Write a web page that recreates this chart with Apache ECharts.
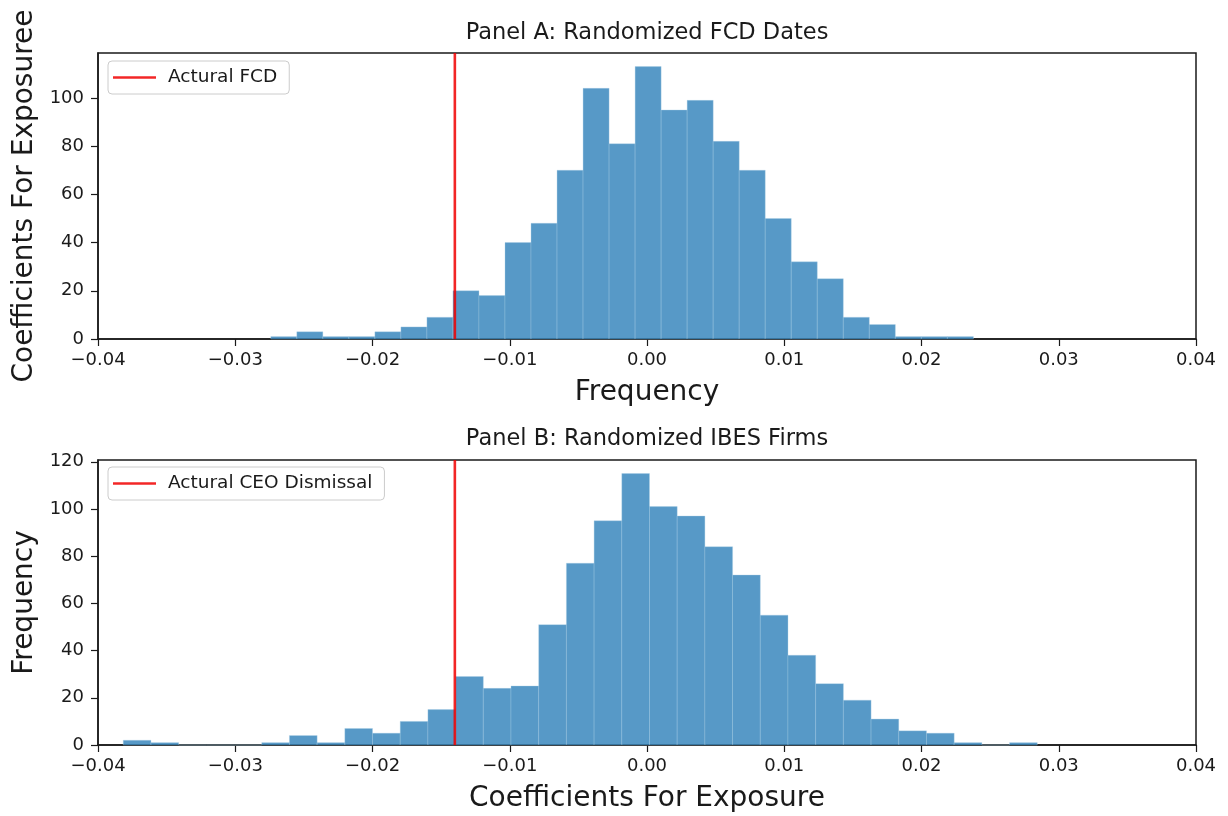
<!DOCTYPE html>
<html>
<head>
<meta charset="utf-8">
<script src="https://cdn.jsdelivr.net/npm/echarts@6/dist/echarts.min.js"></script>
<style>
  html, body { margin: 0; padding: 0; background: #fff; }
  #chart { width: 1228px; height: 816px; }
</style>
</head>
<body>
<div id="chart"></div>
<script>
// Panel A: randomized FCD dates (27 bins)
const countsA = [1, 3, 1, 1, 3, 5, 9, 20, 18, 40, 48, 70, 104, 81, 113, 95, 99, 82, 70, 50, 32, 25, 9, 6, 1, 1, 1]
const binStartA = -0.02741
const binWidthA = 0.001896
// Panel B: randomized IBES firms (33 bins)
const countsB = [2, 1, 0, 0, 0, 1, 4, 1, 7, 5, 10, 15, 29, 24, 25, 51, 77, 95, 115, 101, 97, 84, 72, 55, 38, 26, 19, 11, 6, 5, 1, 0, 1]
const binStartB = -0.03816
const binWidthB = 0.002018

const actualCoef = -0.014
const xTicks = [-0.04, -0.03, -0.02, -0.01, 0, 0.01, 0.02, 0.03, 0.04]
const yTicksA = [0, 20, 40, 60, 80, 100]
const yTicksB = [0, 20, 40, 60, 80, 100, 120]
const yMaxA = 118.65
const yMaxB = 120.75

const FONT = 'DejaVu Sans'
const ink = '#1a1a1a'
const barFill = 'rgba(31,119,180,0.75)'
const red = 'rgba(240,0,0,0.85)'

const toBins = (start, w, counts) => counts.map((n, i) => [start + i * w, start + (i + 1) * w, n])

function histItem(params, api) {
  const top = api.coord([api.value(0), api.value(2)])
  const bot = api.coord([api.value(1), 0])
  return {
    type: 'rect',
    shape: { x: top[0], y: top[1], width: bot[0] - top[0], height: bot[1] - top[1] },
    style: { fill: barFill, stroke: 'rgba(170,205,230,0.5)', lineWidth: 0.7 }
  }
}

const fmtX = v => {
  const r = Math.round(v * 100)
  return (r < 0 ? '\u2212' : '') + (Math.abs(r) / 100).toFixed(2)
}

const tick = { show: true, length: 7, inside: false, lineStyle: { color: ink, width: 1.2 } }
const lbl = { color: ink, fontFamily: FONT, fontSize: 18 }
const nameStyle = { color: ink, fontFamily: FONT, fontSize: 28 }

function xAxisFor(gi, name) {
  return {
    type: 'value', gridIndex: gi, min: -0.04, max: 0.04,
    name, nameLocation: 'middle', nameGap: 40, nameTextStyle: nameStyle,
    axisLine: { show: true, onZero: false, lineStyle: { color: ink, width: 1.5 } },
    axisTick: { ...tick, customValues: xTicks },
    axisLabel: { ...lbl, margin: 12, customValues: xTicks, formatter: fmtX },
    splitLine: { show: false }
  }
}
function yAxisFor(gi, name, ymax, ticks) {
  return {
    type: 'value', gridIndex: gi, min: 0, max: ymax,
    name, nameLocation: 'middle', nameGap: 56, nameTextStyle: nameStyle,
    axisLine: { show: true, onZero: false, lineStyle: { color: ink, width: 1.5 } },
    axisTick: { ...tick, customValues: ticks },
    axisLabel: { ...lbl, margin: 14, customValues: ticks },
    splitLine: { show: false }
  }
}

const legendBox = {
  orient: 'vertical', left: 108, icon: 'rect', itemWidth: 43, itemHeight: 2.5,
  padding: [7, 12, 7, 5], backgroundColor: 'rgba(255,255,255,0.8)',
  borderColor: '#cccccc', borderWidth: 1, borderRadius: 4,
  textStyle: { color: ink, fontFamily: FONT, fontSize: 18.5, padding: [0, 0, 0, 7] }
}

// vertical marker: the actual coefficient, from the bottom to the top of the y range
const redLine = (name, xi, yi, ymax) => ({
  name, type: 'line', xAxisIndex: xi, yAxisIndex: yi, color: red, z: 5,
  showSymbol: false, silent: true, lineStyle: { color: red, width: 2.6 },
  data: [[actualCoef, 0], [actualCoef, ymax]]
})

const chart = echarts.init(document.getElementById('chart'), null, { renderer: 'canvas' })
chart.setOption({
  backgroundColor: '#fff',
  animation: false,
  title: [
    { text: 'Panel A: Randomized FCD Dates', left: 647, top: 22, textAlign: 'center', padding: 0,
      textStyle: { color: ink, fontFamily: FONT, fontSize: 22.5, fontWeight: 'normal' } },
    { text: 'Panel B: Randomized IBES Firms', left: 647, top: 428, textAlign: 'center', padding: 0,
      textStyle: { color: ink, fontFamily: FONT, fontSize: 22.5, fontWeight: 'normal' } }
  ],
  legend: [
    { ...legendBox, top: 61, data: ['Actural FCD'] },
    { ...legendBox, top: 467, data: ['Actural CEO Dismissal'] }
  ],
  grid: [
    { left: 98, top: 53, width: 1098, height: 286, show: true, borderColor: ink, borderWidth: 1.5, backgroundColor: '#fff' },
    { left: 98, top: 460, width: 1098, height: 285, show: true, borderColor: ink, borderWidth: 1.5, backgroundColor: '#fff' }
  ],
  xAxis: [xAxisFor(0, 'Frequency'), xAxisFor(1, 'Coefficients For Exposure')],
  yAxis: [yAxisFor(0, 'Coefficients For Exposuree', yMaxA, yTicksA), yAxisFor(1, 'Frequency', yMaxB, yTicksB)],
  series: [
    { type: 'custom', name: 'histA', xAxisIndex: 0, yAxisIndex: 0, renderItem: histItem,
      encode: { x: [0, 1], y: 2 }, data: toBins(binStartA, binWidthA, countsA), z: 2 },
    { type: 'custom', name: 'histB', xAxisIndex: 1, yAxisIndex: 1, renderItem: histItem,
      encode: { x: [0, 1], y: 2 }, data: toBins(binStartB, binWidthB, countsB), z: 2 },
    redLine('Actural FCD', 0, 0, yMaxA),
    redLine('Actural CEO Dismissal', 1, 1, yMaxB)
  ]
})
</script>
</body>
</html>
